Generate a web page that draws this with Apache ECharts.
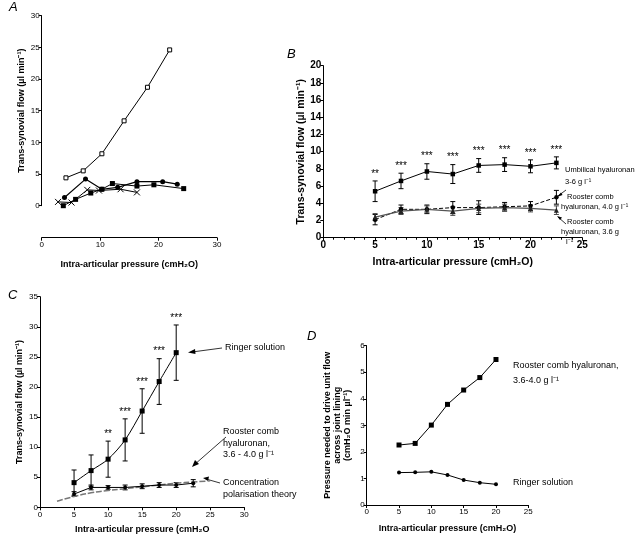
<!DOCTYPE html>
<html><head><meta charset="utf-8">
<script src="https://cdn.jsdelivr.net/npm/echarts@6/dist/echarts.min.js"></script>
<style>html,body{margin:0;padding:0;background:#fff}#c{width:635px;height:538px}</style>
</head><body><div id="c"></div>
<script>
// ---------- Panel A ----------
const aOpenSquares = [[4.15,4.4],[7.1,5.5],[10.3,8.2],[14.1,13.4],[18.1,18.7],[21.9,24.6]];
const aCircles = [[3.9,1.3],[7.5,4.2],[10.3,2.6],[13.0,2.9],[16.3,3.8],[20.7,3.8],[23.2,3.4]];
const aSquares = [[3.7,0.0],[5.8,1.0],[8.4,2.0],[10.3,2.6],[12.1,3.5],[16.3,3.1],[19.2,3.3],[24.3,2.7]];
const aCrosses = [[2.8,0.6],[5.1,0.5],[7.8,2.5],[9.8,2.4],[13.5,2.6],[16.3,2.1]];
// ---------- Panel B ----------
const bPressure = [5,7.5,10,12.5,15,17.5,20,22.5];
const bUmbMean = [5.4,6.6,7.7,7.4,8.4,8.5,8.3,8.7];
const bUmbErr  = [1.2,0.9,0.9,1.1,0.8,0.8,0.75,0.7];
const bSig     = ['**','***','***','***','***','***','***','***'];
const bR40Mean = [2.1,3.3,3.3,3.5,3.5,3.6,3.7,4.7];
const bR40Err  = [0.6,0.5,0.5,0.7,0.8,0.5,0.5,0.8];
const bR36Mean = [2.4,3.1,3.3,3.1,3.4,3.5,3.4,3.2];
const bR36Err  = [0.4,0.4,0.4,0.5,0.5,0.4,0.4,0.5];
// ---------- Panel C ----------
const cRingerP    = [5,7.5,10,12.5,15,17.5,20];
const cRingerMean = [4.1,6.1,8.0,11.2,16.0,20.9,25.7];
const cRingerErr  = [2.1,2.6,3.0,3.5,3.7,3.8,4.6];
const cSig        = ['','','**','***','***','***','***'];
const cRoosterP    = [5,7.5,10,12.5,15,17.5,20,22.5];
const cRoosterMean = [2.2,3.3,3.3,3.3,3.5,3.7,3.7,4.0];
const cRoosterErr  = [0.4,0.4,0.3,0.4,0.4,0.4,0.4,0.6];
const cTheoryP = [2.5,5,7.5,10,12.5,15,17.5,20,22.5,25];
const cTheory  = [1.0,1.8,2.4,2.8,3.1,3.4,3.7,4.0,4.2,4.4];
// ---------- Panel D ----------
const dPressure = [5,7.5,10,12.5,15,17.5,20];
const dRooster = [2.26,2.32,3.01,3.79,4.33,4.8,5.48];
const dRinger  = [1.22,1.23,1.25,1.13,0.94,0.84,0.78];

const FONT = 'Liberation Sans, Arial, sans-serif';
const zip = (xs, ys) => xs.map((x,i)=>[x, ys[i]]);
const errData = (xs, m, e) => xs.map((x,i)=>[x, m[i]-e[i], m[i]+e[i]]);
const sigData = (xs, m, e, s) => xs.map((x,i)=>[x, m[i]+e[i], s[i]]);

function errRender(color){
  return function(params, api){
    const x = api.value(0), lo = api.value(1), hi = api.value(2);
    const p1 = api.coord([x, hi]), p2 = api.coord([x, lo]);
    const w = 2.5;
    const st = {stroke: color, lineWidth: 1};
    return {type:'group', children:[
      {type:'line', shape:{x1:p1[0],y1:p1[1],x2:p2[0],y2:p2[1]}, style:st},
      {type:'line', shape:{x1:p1[0]-w,y1:p1[1],x2:p1[0]+w,y2:p1[1]}, style:st},
      {type:'line', shape:{x1:p2[0]-w,y1:p2[1],x2:p2[0]+w,y2:p2[1]}, style:st}
    ]};
  };
}
function sigRender(params, api){
  const p = api.coord([api.value(0), api.value(1)]);
  return {type:'text', x:p[0], y:p[1]-2, style:{text: api.value(2), fill:'#000', font:'10px '+FONT, align:'center', verticalAlign:'bottom'}};
}

function xAx(grid, max, interval, opts){
  return Object.assign({
    type:'value', gridIndex:grid, min:0, max:max, interval:interval,
    axisLine:{show:true, onZero:false, lineStyle:{color:'#000', width:1}},
    axisTick:{show:true, length:3, lineStyle:{color:'#000'}},
    splitLine:{show:false},
    axisLabel:{color:'#000', fontFamily:FONT, fontSize:8, margin:3},
    nameLocation:'middle', nameTextStyle:{color:'#000', fontFamily:FONT, fontWeight:'bold', fontSize:9}
  }, opts||{});
}
function yAx(grid, max, interval, opts){
  return Object.assign({
    type:'value', gridIndex:grid, min:0, max:max, interval:interval,
    axisLine:{show:true, onZero:false, lineStyle:{color:'#000', width:1}},
    axisTick:{show:true, length:3, lineStyle:{color:'#000'}},
    splitLine:{show:false},
    axisLabel:{color:'#000', fontFamily:FONT, fontSize:8, margin:2},
    nameLocation:'middle', nameRotate:90, nameTextStyle:{color:'#000', fontFamily:FONT, fontWeight:'bold', fontSize:9}
  }, opts||{});
}

const crossSym = 'path://M0,0L10,10M10,0L0,10';
const black = {color:'#000'};

const option = {
  backgroundColor:'#fff',
  animation:false,
  grid:[
    {left:41.7, top:15.7, width:175.3, height:190},
    {left:323.3, top:65.7, width:259, height:172},
    {left:40, top:296.7, width:204.3, height:210.6},
    {left:366.7, top:345.7, width:161.6, height:159.3}
  ],
  xAxis:[
    xAx(0,30,10,{offset:32, name:'Intra-articular pressure (cmH₂O)', nameGap:22}),
    xAx(1,25,5,{name:'Intra-articular pressure (cmH₂O)', nameGap:19,
      minorTick:{show:true, splitNumber:5, length:2, lineStyle:{color:'#000'}},
      axisLabel:{color:'#000', fontFamily:FONT, fontSize:10, fontWeight:'bold', margin:3},
      nameTextStyle:{color:'#000', fontFamily:FONT, fontWeight:'bold', fontSize:10.5}}),
    xAx(2,30,5,{name:'Intra-articular pressure (cmH₂O', nameGap:18}),
    xAx(3,25,5,{name:'Intra-articular pressure (cmH₂O)', nameGap:19})
  ],
  yAxis:[
    yAx(0,30,5,{name:'Trans-synovial flow (µl min⁻¹)', nameGap:16}),
    yAx(1,20,2,{name:'Trans-synovial flow (µl min⁻¹)', nameGap:16,
      axisLabel:{color:'#000', fontFamily:FONT, fontSize:10, fontWeight:'bold', margin:2},
      nameTextStyle:{color:'#000', fontFamily:FONT, fontWeight:'bold', fontSize:10.5}}),
    yAx(2,35,5,{name:'Trans-synovial flow (µl min⁻¹)', nameGap:16}),
    yAx(3,6,1,{name:'Pressure needed to drive unit flow\nacross joint lining\n(cmH₂O min µl⁻¹)', nameGap:14,
      nameTextStyle:{color:'#000', fontFamily:FONT, fontWeight:'bold', fontSize:9, lineHeight:10}})
  ],
  series:[
    // Panel A
    {type:'line', xAxisIndex:0, yAxisIndex:0, data:aOpenSquares, symbol:'rect', symbolSize:4, showAllSymbol:true,
      lineStyle:{color:'#000', width:1, type:'solid'}, itemStyle:{color:'#fff', borderColor:'#000', borderWidth:1}, z:4},
    {type:'line', xAxisIndex:0, yAxisIndex:0, data:aCircles, symbol:'circle', symbolSize:5,
      lineStyle:{color:'#000', width:1.2}, itemStyle:black},
    {type:'line', xAxisIndex:0, yAxisIndex:0, data:aSquares, symbol:'rect', symbolSize:5,
      lineStyle:{color:'#000', width:1}, itemStyle:black},
    {type:'line', xAxisIndex:0, yAxisIndex:0, data:aCrosses, symbol:crossSym, symbolSize:6,
      lineStyle:{color:'#000', width:1}, itemStyle:{color:'#000', borderColor:'#000', borderWidth:1}},
    // Panel B
    {type:'custom', xAxisIndex:1, yAxisIndex:1, renderItem:errRender('#000'), data:errData(bPressure,bUmbMean,bUmbErr), encode:{x:0,y:[1,2]}, z:3},
    {type:'custom', xAxisIndex:1, yAxisIndex:1, renderItem:errRender('#000'), data:errData(bPressure,bR40Mean,bR40Err), encode:{x:0,y:[1,2]}, z:3},
    {type:'custom', xAxisIndex:1, yAxisIndex:1, renderItem:errRender('#444'), data:errData(bPressure,bR36Mean,bR36Err), encode:{x:0,y:[1,2]}, z:3},
    {type:'custom', xAxisIndex:1, yAxisIndex:1, renderItem:sigRender, data:sigData(bPressure,bUmbMean,bUmbErr,bSig), encode:{x:0,y:1}},
    {type:'line', xAxisIndex:1, yAxisIndex:1, data:zip(bPressure,bUmbMean), symbol:'rect', symbolSize:4.5,
      lineStyle:{color:'#000', width:1}, itemStyle:black},
    {type:'line', xAxisIndex:1, yAxisIndex:1, data:zip(bPressure,bR40Mean), symbol:'circle', symbolSize:4.5,
      lineStyle:{color:'#000', width:1, type:[4,2]}, itemStyle:black},
    {type:'line', xAxisIndex:1, yAxisIndex:1, data:zip(bPressure,bR36Mean), symbol:'triangle', symbolSize:5,
      lineStyle:{color:'#555', width:1.3}, itemStyle:{color:'#222'}},
    // Panel C
    {type:'line', xAxisIndex:2, yAxisIndex:2, data:zip(cTheoryP,cTheory), symbol:'none', smooth:true,
      lineStyle:{color:'#777', width:1.5, type:[6,2]}},
    {type:'custom', xAxisIndex:2, yAxisIndex:2, renderItem:errRender('#000'), data:errData(cRingerP,cRingerMean,cRingerErr), encode:{x:0,y:[1,2]}, z:3},
    {type:'custom', xAxisIndex:2, yAxisIndex:2, renderItem:errRender('#000'), data:errData(cRoosterP,cRoosterMean,cRoosterErr), encode:{x:0,y:[1,2]}, z:3},
    {type:'custom', xAxisIndex:2, yAxisIndex:2, renderItem:sigRender, data:sigData(cRingerP,cRingerMean,cRingerErr,cSig), encode:{x:0,y:1}},
    {type:'line', xAxisIndex:2, yAxisIndex:2, data:zip(cRingerP,cRingerMean), symbol:'rect', symbolSize:5, smooth:0.3,
      lineStyle:{color:'#000', width:1}, itemStyle:black},
    {type:'line', xAxisIndex:2, yAxisIndex:2, data:zip(cRoosterP,cRoosterMean), symbol:'circle', symbolSize:4,
      lineStyle:{color:'#000', width:1}, itemStyle:black},
    // Panel D
    {type:'line', xAxisIndex:3, yAxisIndex:3, data:zip(dPressure,dRooster), symbol:'rect', symbolSize:5,
      lineStyle:{color:'#000', width:1}, itemStyle:black},
    {type:'line', xAxisIndex:3, yAxisIndex:3, data:zip(dPressure,dRinger), symbol:'circle', symbolSize:4,
      lineStyle:{color:'#000', width:1}, itemStyle:black}
  ],
  graphic:[
    {type:'text', left:9, top:1, style:{text:'A', font:'italic 13px '+FONT, fill:'#000'}},
    {type:'text', left:287, top:48, style:{text:'B', font:'italic 13px '+FONT, fill:'#000'}},
    {type:'text', left:8, top:289, style:{text:'C', font:'italic 13px '+FONT, fill:'#000'}},
    {type:'text', left:307, top:330, style:{text:'D', font:'italic 13px '+FONT, fill:'#000'}},
    // B annotations
    {type:'text', left:565, top:164, style:{text:'Umbilical hyaluronan\n3-6 g l⁻¹', font:'7.5px '+FONT, fill:'#000', lineHeight:12}},
    {type:'text', left:567, top:193, style:{text:'Rooster comb', font:'7.5px '+FONT, fill:'#000'}},
    {type:'text', left:561, top:203, style:{text:'hyaluronan, 4.0 g l⁻¹', font:'7.5px '+FONT, fill:'#000'}},
    {type:'text', left:567, top:218, style:{text:'Rooster comb', font:'7.5px '+FONT, fill:'#000'}},
    {type:'text', left:561, top:228, style:{text:'hyaluronan, 3.6 g', font:'7.5px '+FONT, fill:'#000'}},
    {type:'text', left:566, top:238, style:{text:'l⁻¹', font:'7.5px '+FONT, fill:'#000'}},
    {type:'line', shape:{x1:566,y1:190,x2:558,y2:196}, style:{stroke:'#000', lineWidth:0.8}},
    {type:'polygon', shape:{points:[[557,197],[561,192.5],[562.5,195]]}, style:{fill:'#000'}},
    {type:'line', shape:{x1:566,y1:224,x2:558,y2:217}, style:{stroke:'#000', lineWidth:0.8}},
    {type:'polygon', shape:{points:[[557,216],[562,217.5],[560,220]]}, style:{fill:'#000'}},
    // C annotations
    {type:'text', left:225, top:343, style:{text:'Ringer solution', font:'9px '+FONT, fill:'#000'}},
    {type:'line', shape:{x1:222,y1:348,x2:192,y2:352}, style:{stroke:'#000', lineWidth:0.8}},
    {type:'polygon', shape:{points:[[188,352.5],[195,349],[195.5,354]]}, style:{fill:'#000'}},
    {type:'text', left:223, top:426, style:{text:'Rooster comb\nhyaluronan,\n3.6 - 4.0 g l⁻¹', font:'9px '+FONT, fill:'#000', lineHeight:11.5}},
    {type:'line', shape:{x1:226,y1:437,x2:194,y2:465}, style:{stroke:'#000', lineWidth:0.8}},
    {type:'polygon', shape:{points:[[192,467],[195,460],[199,464]]}, style:{fill:'#000'}},
    {type:'text', left:223, top:477, style:{text:'Concentration\npolarisation theory', font:'9px '+FONT, fill:'#000', lineHeight:12}},
    {type:'line', shape:{x1:220,y1:483,x2:206,y2:479}, style:{stroke:'#000', lineWidth:0.8}},
    {type:'polygon', shape:{points:[[203,478],[209,476.5],[208,481]]}, style:{fill:'#000'}},
    // D annotations
    {type:'text', left:513, top:358, style:{text:'Rooster comb hyaluronan,\n3.6-4.0 g l⁻¹', font:'9px '+FONT, fill:'#000', lineHeight:15}},
    {type:'text', left:513, top:478, style:{text:'Ringer solution', font:'9px '+FONT, fill:'#000'}}
  ]
};
const chart = echarts.init(document.getElementById('c'), null, {renderer:'canvas'});
chart.setOption(option);
</script></body></html>
